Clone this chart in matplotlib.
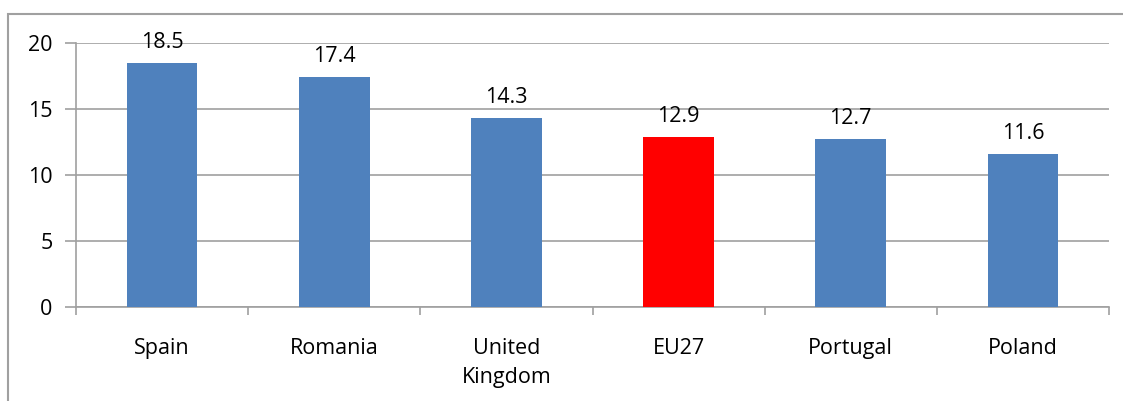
import matplotlib
matplotlib.use("Agg")
import matplotlib.pyplot as plt
from matplotlib.patches import Rectangle

categories = ["Spain", "Romania", "United\nKingdom", "EU27", "Portugal", "Poland"]
values = [18.5, 17.4, 14.3, 12.9, 12.7, 11.6]
colors = ["#4F81BD", "#4F81BD", "#4F81BD", "#FF0000", "#4F81BD", "#4F81BD"]
yticks = [0, 5, 10, 15, 20]

plt.rcParams['font.family'] = ['Open Sans', 'DejaVu Sans']
FS = 15.5
W, H = 1123, 401
fig = plt.figure(figsize=(W / 100, H / 100), dpi=100)
fig.patches.append(Rectangle((8 / W, -0.1), 1.2, (H - 14) / H + 0.1, transform=fig.transFigure,
                             fill=False, edgecolor="#A0A0A0", linewidth=1.5))
ax = fig.add_axes([76 / W, 1 - 307 / H, (1109 - 76) / W, (307 - 43) / H])

x = list(range(len(categories)))
bars = ax.bar(x, values, width=0.41, color=colors, zorder=3)
for xi, v in zip(x, values):
    ax.text(xi, v + 0.75, f"{v}", ha="center", va="bottom", fontsize=FS)

ax.set_xlim(-0.5, len(categories) - 0.5)
ax.set_ylim(0, 20)
ax.set_yticks(yticks)
ax.set_yticklabels([str(t) for t in yticks], fontsize=FS)
ax.yaxis.grid(True, color="#A0A0A0", linewidth=1.2, zorder=0)
ax.tick_params(axis="y", length=8, color="#A0A0A0", width=1.2, pad=9)
ax.set_xticks([i + 0.5 for i in range(-1, len(categories))], minor=False)
ax.set_xticklabels([])
ax.tick_params(axis="x", which="major", length=6, direction="out", color="#A0A0A0", width=1.2)
ax.set_xticks(x, minor=True)
ax.set_xticklabels(categories, minor=True, fontsize=FS, linespacing=1.5, va="top")
ax.tick_params(axis="x", which="minor", length=0, pad=22)
for s in ["top", "right"]:
    ax.spines[s].set_visible(False)
for s in ["left", "bottom"]:
    ax.spines[s].set_color("#A0A0A0")
    ax.spines[s].set_linewidth(1.2)

fig.savefig("out.png", dpi=100)
